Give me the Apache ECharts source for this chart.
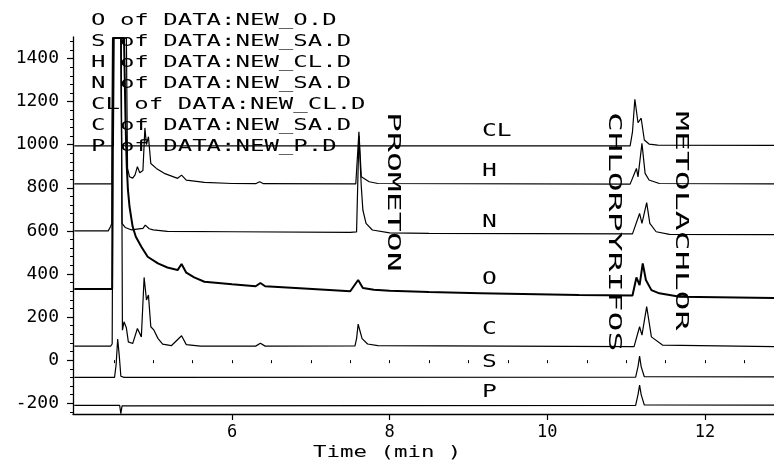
<!DOCTYPE html>
<html><head><meta charset="utf-8">
<script src="https://cdn.jsdelivr.net/npm/echarts@6/dist/echarts.min.js"></script>
<style>html,body{margin:0;padding:0;background:#fff}#c{width:774px;height:463px}</style>
</head><body><div id="c"></div>
<script>
// ---------- tick labels ----------
const xTickLabels = [6, 8, 10, 12];
const yTickLabels = [-200, 0, 200, 400, 600, 800, 1000, 1200, 1400];

// ---------- header text / trace names / compounds ----------
const headerLines = [
  "O of DATA:NEW_O.D",
  "S of DATA:NEW_SA.D",
  "H of DATA:NEW_CL.D",
  "N of DATA:NEW_SA.D",
  "CL of DATA:NEW_CL.D",
  "C of DATA:NEW_SA.D",
  "P of DATA:NEW_P.D"
];
const traceNames = ["CL", "H", "N", "O", "C", "S", "P"];
const compoundNames = ["PROMETON", "CHLORPYRIFOS", "METOLACHLOR"];

// ---------- series values (time in min, response) ----------
const tCL = [4.0, 4.495, 4.505, 4.59, 4.60, 4.64, 11.05, 11.08, 11.11, 11.15, 11.19, 11.23, 11.29, 11.4, 12.9];
const vCL = [995, 995, 1495, 1495, 1000, 995, 995, 1060, 1211, 1102, 1123, 1022, 1003, 998, 997];

const tH = [4.0, 4.48, 4.49, 4.66, 4.675, 4.70, 4.74, 4.77, 4.80, 4.83, 4.87, 4.895, 4.915, 4.94, 4.97, 5.04, 5.14, 5.31, 5.36, 5.42, 5.65, 6.0, 6.3, 6.35, 6.4, 7.57, 7.61, 7.64, 7.74, 7.85, 11.05, 11.13, 11.15, 11.20, 11.24, 11.29, 11.42, 12.9];
const vH = [818, 818, 1495, 1495, 890, 851, 845, 860, 898, 870, 880, 1078, 1000, 1037, 913, 890, 867, 844, 859, 836, 825, 820, 819, 828, 819, 818, 1060, 851, 828, 820, 817, 890, 851, 1006, 867, 836, 820, 818];

const tN = [4.0, 4.43, 4.46, 4.475, 4.485, 4.59, 4.605, 4.645, 4.72, 4.87, 4.9, 4.95, 5.0, 5.18, 6.0, 7.5, 7.58, 7.61, 7.64, 7.66, 7.70, 7.78, 8.0, 8.5, 11.08, 11.17, 11.20, 11.26, 11.30, 11.38, 11.55, 12.9];
const vN = [600, 600, 620, 635, 1495, 1495, 635, 616, 605, 612, 627, 610, 605, 598, 596, 593, 595, 1040, 805, 697, 635, 604, 591, 588, 586, 681, 635, 731, 635, 596, 584, 583];

const tO = [4.0, 4.48, 4.49, 4.63, 4.65, 4.665, 4.68, 4.70, 4.74, 4.78, 4.85, 4.93, 5.06, 5.18, 5.31, 5.36, 5.42, 5.52, 5.65, 6.0, 6.3, 6.36, 6.42, 6.86, 7.5, 7.6, 7.66, 7.8, 8.0, 8.5, 9.15, 10.4, 11.08, 11.13, 11.17, 11.21, 11.25, 11.32, 11.42, 11.68, 12.9];
const vO = [330, 330, 1495, 1495, 1100, 900, 790, 712, 619, 573, 526, 480, 449, 430, 418, 446, 406, 384, 364, 352, 343, 358, 343, 334, 320, 372, 335, 327, 322, 316, 311, 302, 300, 384, 348, 449, 372, 325, 310, 294, 288];

const tC = [4.0, 4.46, 4.48, 4.495, 4.595, 4.61, 4.63, 4.645, 4.66, 4.685, 4.74, 4.8, 4.85, 4.885, 4.915, 4.94, 4.97, 5.01, 5.06, 5.12, 5.23, 5.36, 5.42, 5.6, 6.3, 6.36, 6.42, 7.56, 7.58, 7.6, 7.62, 7.65, 7.72, 7.85, 11.1, 11.17, 11.20, 11.26, 11.32, 11.46, 12.9];
const vC = [65, 65, 75, 1495, 1495, 139, 178, 170, 150, 85, 77, 147, 108, 384, 279, 302, 155, 139, 101, 74, 67, 113, 72, 65, 65, 78, 65, 66, 100, 167, 140, 100, 75, 67, 63, 155, 116, 248, 108, 70, 63];

const tS = [4.0, 4.51, 4.53, 4.55, 4.57, 4.59, 4.63, 11.12, 11.15, 11.17, 11.19, 11.23, 12.9];
const vS = [-80, -80, -20, 98, 20, -75, -80, -79, -30, 19, -30, -77, -78];

const tP = [4.0, 4.575, 4.59, 4.605, 11.12, 11.15, 11.17, 11.19, 11.23, 12.9];
const vP = [-210, -210, -248, -212, -210, -160, -116, -160, -208, -209];

// ---------- build ----------
const FONT = '"DejaVu Sans Mono", monospace';
const pairs = (t, v) => t.map((x, i) => [x, v[i]]);
const traces = [
  { name: "CL", t: tCL, v: vCL, w: 1.2 },
  { name: "H", t: tH, v: vH, w: 1.2 },
  { name: "N", t: tN, v: vN, w: 1.2 },
  { name: "O", t: tO, v: vO, w: 2.0 },
  { name: "C", t: tC, v: vC, w: 1.2 },
  { name: "S", t: tS, v: vS, w: 1.2 },
  { name: "P", t: tP, v: vP, w: 1.2 }
];

const X_MIN = 3.983, X_MAX = 12.875;
const yMinor = [];
for (let y = -240; y <= 1480; y += 40) yMinor.push(y);
const xMinor = [];
for (let x = 4.5; x <= 12.8; x += 0.5) xMinor.push(+x.toFixed(2));

const axisLineStyle = { color: '#000', width: 1.3 };

const graphics = [];
headerLines.forEach((s, i) => {
  graphics.push({ type: 'text', x: 91, y: 20.5 + i * 21, scaleX: 1.5, z: 10,
    style: { text: s, font: '16px ' + FONT, fill: '#000', align: 'left', verticalAlign: 'middle' } });
});
const nameY = [132, 172, 223, 280, 330, 363, 393];
traceNames.forEach((s, i) => {
  graphics.push({ type: 'text', x: 482, y: nameY[i], scaleX: 1.45, z: 10,
    style: { text: s, font: '17px ' + FONT, fill: '#000', align: 'left', verticalAlign: 'middle' } });
});
const compPos = [[392, 112], [613, 112], [680, 111]];
compoundNames.forEach((s, i) => {
  graphics.push({ type: 'text', x: compPos[i][0], y: compPos[i][1], rotation: -Math.PI / 2, scaleX: 1.95, z: 10,
    style: { text: s, font: '17px ' + FONT, fill: '#000', align: 'left', verticalAlign: 'middle' } });
});
graphics.push({ type: 'text', x: 313, y: 453, scaleX: 1.4, z: 10,
  style: { text: 'Time (min )', font: '16px ' + FONT, fill: '#000', align: 'left', verticalAlign: 'middle' } });

const option = {
  animation: false,
  backgroundColor: '#fff',
  grid: { left: 73, right: 0, top: 37, bottom: 49 },
  xAxis: [
    { type: 'value', min: X_MIN, max: X_MAX, position: 'bottom',
      axisLine: { show: true, onZero: false, lineStyle: axisLineStyle },
      axisTick: { show: true, customValues: xTickLabels, length: 6, lineStyle: { color: '#000', width: 1.2 } },
      axisLabel: { customValues: xTickLabels, color: '#000', fontFamily: FONT, fontSize: 17, margin: 10,
        formatter: v => String(v) },
      splitLine: { show: false } },
    { type: 'value', min: X_MIN, max: X_MAX, position: 'bottom', offset: 0,
      axisLine: { show: false }, axisLabel: { show: false }, splitLine: { show: false },
      axisTick: { show: true, customValues: xMinor, length: 3, lineStyle: { color: '#000', width: 1 } } }
  ],
  yAxis: [
    { type: 'value', min: -250, max: 1500, position: 'left',
      axisLine: { show: true, onZero: false, lineStyle: axisLineStyle },
      axisTick: { show: true, customValues: yTickLabels, length: 6, lineStyle: { color: '#000', width: 1.2 } },
      axisLabel: { customValues: yTickLabels, color: '#000', fontFamily: FONT, fontSize: 18, margin: 14,
        formatter: v => String(v) },
      splitLine: { show: false } },
    { type: 'value', min: -250, max: 1500, position: 'left', offset: 0,
      axisLine: { show: false }, axisLabel: { show: false }, splitLine: { show: false },
      axisTick: { show: true, customValues: yMinor, length: 3, lineStyle: { color: '#000', width: 1 } } }
  ],
  series: traces.map(tr => ({
    name: tr.name, type: 'line', xAxisIndex: 0, yAxisIndex: 0,
    data: pairs(tr.t, tr.v), showSymbol: false, symbol: 'none',
    lineStyle: { color: '#000', width: tr.w }, z: 3
  })),
  graphic: graphics
};
const chart = echarts.init(document.getElementById('c'), null, { renderer: 'canvas' });
chart.setOption(option);
</script></body></html>
